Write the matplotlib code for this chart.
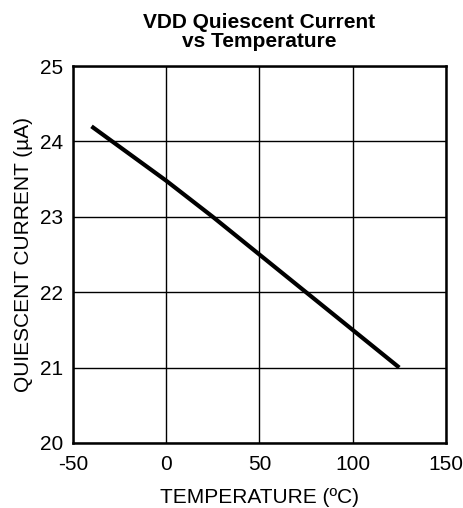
import matplotlib
matplotlib.use("Agg")
import matplotlib.pyplot as plt

plt.rcParams['font.family'] = ['Liberation Sans', 'DejaVu Sans']
plt.rcParams['axes.unicode_minus'] = False

# data
temperature = [-40, 0, 25, 50, 75, 100, 125]
current = [24.2, 23.48, 23.0, 22.5, 22.0, 21.5, 21.0]

x_ticks = [-50, 0, 50, 100, 150]
y_ticks = [20, 21, 22, 23, 24, 25]

fig = plt.figure(figsize=(4.64, 5.08), dpi=100)
ax = fig.add_axes([0.157, 0.128, 0.804, 0.742])

ax.plot(temperature, current, color='black', linewidth=3, solid_capstyle='butt')

ax.set_xlim(-50, 150)
ax.set_ylim(20, 25)
ax.set_xticks(x_ticks)
ax.set_yticks(y_ticks)
ax.grid(True, color='black', linewidth=1)
ax.tick_params(length=0, labelsize=15)
ax.tick_params(axis='x', pad=9)
ax.tick_params(axis='y', pad=7)
for s in ax.spines.values():
    s.set_linewidth(1.8)

ax.set_xlabel('TEMPERATURE (ºC)', fontsize=15, labelpad=10)
ax.set_ylabel('QUIESCENT CURRENT (µA)', fontsize=15, labelpad=5)
ax.set_title('VDD Quiescent Current\nvs Temperature', fontsize=15,
             fontweight='bold', linespacing=1.0, pad=14)

fig.savefig('out.png', dpi=100)
